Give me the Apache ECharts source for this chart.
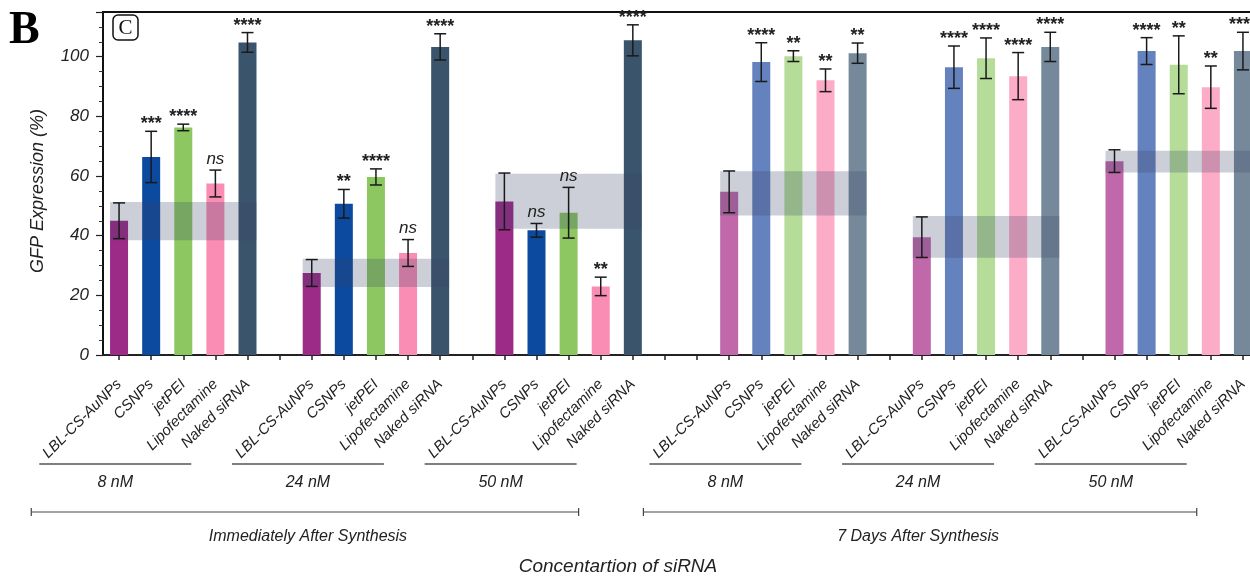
<!DOCTYPE html>
<html><head><meta charset="utf-8">
<script src="https://cdn.jsdelivr.net/npm/echarts@6/dist/echarts.min.js"></script>
<style>html,body{margin:0;padding:0;background:#fff;overflow:hidden}#c{width:1259px;height:579px}</style>
</head><body><div id="c"></div>
<script>
// ---------- data ----------
const treatments = ['LBL-CS-AuNPs', 'CSNPs', 'jetPEI', 'Lipofectamine', 'Naked siRNA'];
const concentrations = ['8 nM', '24 nM', '50 nM'];
const periods = ['Immediately After Synthesis', '7 Days After Synthesis'];
const yTickLabels = [0, 20, 40, 60, 80, 100];

// Immediately after synthesis (rows: 8, 24, 50 nM)
const meanImmediate = [
  [45.0, 66.4, 76.3, 57.5, 104.8],
  [27.5, 50.7, 59.7, 34.2, 103.3],
  [51.5, 41.8, 47.7, 23.0, 105.5]
];
const errImmediate = [
  [6.0, 8.6, 1.1, 4.5, 3.3],
  [4.5, 4.8, 2.7, 4.5, 4.4],
  [9.5, 2.3, 8.5, 3.1, 5.2]
];
const sigImmediate = [
  ['', '***', '****', 'ns', '****'],
  ['', '**', '****', 'ns', '****'],
  ['', 'ns', 'ns', '**', '****']
];
const bandImmediate = [[38.5, 51.3], [22.8, 32.3], [42.3, 60.8]];

// 7 days after synthesis (rows: 8, 24, 50 nM)
const meanDay7 = [
  [54.7, 98.2, 100.2, 92.1, 101.2],
  [39.5, 96.5, 99.5, 93.5, 103.3],
  [65.0, 101.9, 97.3, 89.8, 101.9]
];
const errDay7 = [
  [7.0, 6.5, 1.8, 3.8, 3.4],
  [6.8, 7.1, 6.8, 7.9, 4.9],
  [3.8, 4.5, 9.7, 7.1, 6.3]
];
const sigDay7 = [
  ['', '****', '**', '**', '**'],
  ['', '****', '****', '****', '****'],
  ['', '****', '**', '**', '****']
];
const bandDay7 = [[46.8, 61.6], [32.6, 46.6], [61.2, 68.5]];

// ---------- styles / layout ----------
const colorsImmediate = ['#9C2A87', '#0B4A9E', '#8DC762', '#FA8DB3', '#3A546C'];
const colorsDay7 = ['#C068AA', '#6482BE', '#B5DC98', '#FDACC7', '#76899A'];
const groupStart = [0, 6, 12, 19, 25, 31];
const nSlots = 36;
const FONT = "'Liberation Sans', Arial, sans-serif";

const groups = [];
for (let c = 0; c < 3; c++) groups.push({mean: meanImmediate[c], err: errImmediate[c], sig: sigImmediate[c], band: bandImmediate[c], colors: colorsImmediate, conc: concentrations[c]});
for (let c = 0; c < 3; c++) groups.push({mean: meanDay7[c], err: errDay7[c], sig: sigDay7[c], band: bandDay7[c], colors: colorsDay7, conc: concentrations[c]});

const categories = new Array(nSlots).fill('');
const barData = new Array(nSlots).fill('-');
const errData = [], errSig = [], bandData = [];
groups.forEach((g, gi) => {
  const s = groupStart[gi];
  treatments.forEach((t, ti) => {
    categories[s + ti] = t;
    barData[s + ti] = {value: g.mean[ti], itemStyle: {color: g.colors[ti]}};
    errData.push([s + ti, g.mean[ti], g.err[ti]]);
    errSig.push(g.sig[ti]);
  });
  bandData.push([s, s + 4, g.band[0], g.band[1]]);
});

const chart = echarts.init(document.getElementById('c'), null, {renderer: 'canvas'});
const BAR_W = 18;
const option = {
  animation: false,
  backgroundColor: '#fff',
  grid: {left: 103, top: 12, bottom: 224, right: 0, show: true, borderColor: '#111', borderWidth: 2, backgroundColor: 'transparent'},
  xAxis: {
    type: 'category', data: categories,
    axisLine: {lineStyle: {color: '#222', width: 2}},
    axisTick: {show: true, alignWithLabel: true, interval: 0, length: 5, lineStyle: {color: '#222', width: 1.5}},
    axisLabel: {interval: 0, rotate: 45, margin: 27, fontFamily: FONT, fontStyle: 'italic', fontSize: 15, color: '#222'},
    splitLine: {show: false}
  },
  yAxis: [{
    type: 'value', min: 0, max: 115, interval: 5,
    axisLine: {show: true, lineStyle: {color: '#111', width: 2}},
    axisTick: {show: true, length: 4, lineStyle: {color: '#333', width: 1}},
    axisLabel: {margin: 14, fontFamily: FONT, fontStyle: 'italic', fontSize: 17, color: '#222',
      formatter: v => (yTickLabels.indexOf(v) >= 0 ? String(v) : '')},
    splitLine: {show: false}
  }, {
    type: 'value', min: 0, max: 115, interval: 20, position: 'left',
    axisLine: {show: false}, axisLabel: {show: false}, splitLine: {show: false},
    axisTick: {show: true, length: 7, lineStyle: {color: '#222', width: 1.2}}
  }],
  series: [{
    type: 'bar', data: barData, barWidth: BAR_W, z: 2
  }, {
    type: 'custom', data: bandData, z: 3, silent: true,
    encode: {x: [0, 1], y: [2, 3]},
    renderItem(params, api) {
      const p1 = api.coord([api.value(0), api.value(3)]);
      const p2 = api.coord([api.value(1), api.value(2)]);
      return {type: 'rect', shape: {x: p1[0] - BAR_W / 2, y: p1[1], width: p2[0] - p1[0] + BAR_W, height: p2[1] - p1[1]},
        style: {fill: 'rgba(55,63,100,0.25)'}};
    }
  }, {
    type: 'custom', data: errData, z: 4, silent: true,
    encode: {x: 0, y: 1},
    renderItem(params, api) {
      const x = api.value(0), m = api.value(1), e = api.value(2);
      const top = api.coord([x, m + e]), bot = api.coord([x, m - e]);
      const cap = 6;
      const st = {stroke: '#1a1a1a', lineWidth: 1.5};
      const children = [
        {type: 'line', shape: {x1: top[0], y1: top[1], x2: bot[0], y2: bot[1]}, style: st},
        {type: 'line', shape: {x1: top[0] - cap, y1: top[1], x2: top[0] + cap, y2: top[1]}, style: st},
        {type: 'line', shape: {x1: bot[0] - cap, y1: bot[1], x2: bot[0] + cap, y2: bot[1]}, style: st}
      ];
      const sig = errSig[params.dataIndex];
      if (sig) {
        const isNs = sig === 'ns';
        children.push({type: 'text', x: top[0], y: top[1] - (isNs ? 11 : 7),
          style: {text: sig, align: 'center', verticalAlign: 'middle', fill: '#222',
            font: (isNs ? 'italic 17px ' : 'bold 18px ') + FONT}});
      }
      return {type: 'group', children};
    }
  }]
};
chart.setOption(option);

// ---------- annotations under the axis ----------
const px = s => chart.convertToPixel({xAxisIndex: 0}, s);
const gfx = [];
const OFF = -68, HALF = 76;
const lineL = [], lineR = [], lblX = [];
groups.forEach((g, gi) => {
  const cx = px(groupStart[gi] + 2) + OFF;
  lineL.push(cx - HALF); lineR.push(cx + HALF); lblX.push(cx);
  gfx.push({type: 'line', shape: {x1: cx - HALF, y1: 464, x2: cx + HALF, y2: 464}, style: {stroke: '#555', lineWidth: 1.5}});
  gfx.push({type: 'text', x: cx, y: 483, style: {text: g.conc, align: 'center', verticalAlign: 'middle', fill: '#222', font: 'italic 16px ' + FONT}});
});
periods.forEach((p, pi) => {
  const l = lineL[pi * 3] - (pi === 0 ? 8 : 6), r = lineR[pi * 3 + 2] + (pi === 0 ? 2 : 10);
  const y = 512;
  const st = {stroke: '#444', lineWidth: 1.2};
  gfx.push({type: 'line', shape: {x1: l, y1: y, x2: r, y2: y}, style: st});
  gfx.push({type: 'line', shape: {x1: l, y1: y - 4, x2: l, y2: y + 4}, style: st});
  gfx.push({type: 'line', shape: {x1: r, y1: y - 4, x2: r, y2: y + 4}, style: st});
  gfx.push({type: 'text', x: lblX[pi * 3 + 1], y: 537, style: {text: p, align: 'center', verticalAlign: 'middle', fill: '#222', font: 'italic 16px ' + FONT}});
});
gfx.push({type: 'text', x: 618, y: 567, style: {text: 'Concentartion of siRNA', align: 'center', verticalAlign: 'middle', fill: '#222', font: 'italic 19px ' + FONT}});
// y axis title
gfx.push({type: 'text', x: 38, y: 191, rotation: Math.PI / 2, style: {text: 'GFP Expression (%)', align: 'center', verticalAlign: 'middle', fill: '#222', font: 'italic 18px ' + FONT}});
// panel letters
gfx.push({type: 'text', x: 9, y: 31, style: {text: 'B', align: 'left', verticalAlign: 'middle', fill: '#000', font: "bold 46px 'Liberation Serif', 'Times New Roman', serif"}});
gfx.push({type: 'rect', shape: {x: 113, y: 15, width: 25, height: 25, r: 5}, style: {fill: '#fff', stroke: '#111', lineWidth: 1.5}, z: 10});
gfx.push({type: 'text', x: 125.5, y: 28, z: 11, style: {text: 'C', align: 'center', verticalAlign: 'middle', fill: '#111', font: "21px 'Liberation Serif', 'Times New Roman', serif"}});
chart.setOption({graphic: gfx});
</script></body></html>
